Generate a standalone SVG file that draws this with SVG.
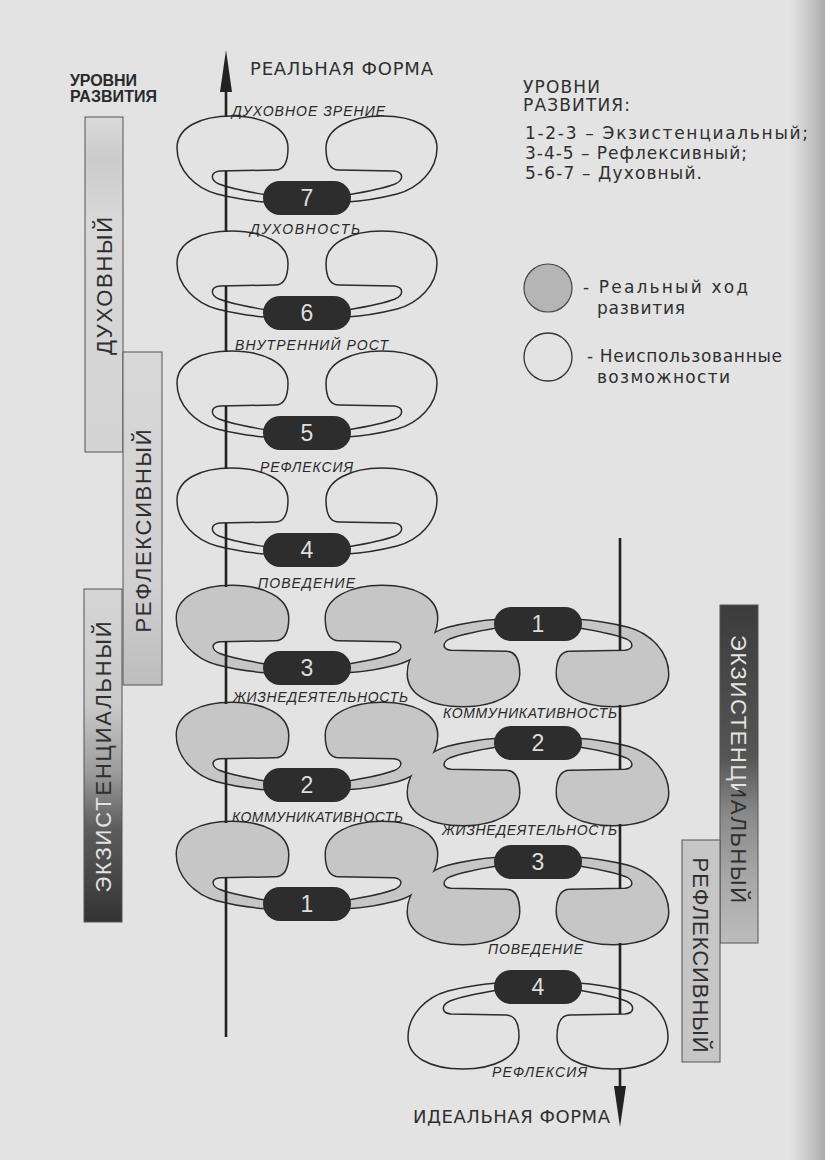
<svg xmlns="http://www.w3.org/2000/svg" width="825" height="1160" viewBox="0 0 825 1160">
<defs>
<style>
.lbl{font-family:"Liberation Sans",Arial,sans-serif;font-style:italic;font-size:14px;fill:#2a2a2a}
.num{font-family:"Liberation Sans",Arial,sans-serif;font-size:23px;fill:#dedede;text-anchor:middle}
.pill{fill:#2d2d2d}
.axis{stroke:#222;stroke-width:2.6;fill:none}
.bar{font-family:"Liberation Sans",Arial,sans-serif;font-size:22px;text-anchor:middle}
.leg{font-family:"DejaVu Sans",sans-serif;font-size:17px;fill:#2f2f2f}
.big{font-family:"DejaVu Sans",sans-serif;font-size:18px;fill:#2f2f2f}
.head{font-family:"Liberation Sans",Arial,sans-serif;font-weight:bold;font-size:16px;fill:#2a2a2a}
.shOut{fill:none;stroke:#2b2b2b;stroke-width:3}
.shFill{fill:#c6c6c6;stroke:none}
.open{fill:#e3e3e3;stroke:#2b2b2b;stroke-width:1.5}
.barbox{stroke:#555;stroke-width:1}
</style>
<path id="lobe" d="M -40,-3 C -58,-6 -78,-10 -88,-14 C -97,-18 -97,-26 -87,-27 L -32,-28 C -22,-28 -19,-38 -19,-50 C -19,-70 -44,-82 -75,-82 C -108,-82 -130,-70 -130,-50 C -130,-28 -112,-10 -90,-4 C -74,0 -58,3 -40,4 Z"/>
<linearGradient id="gExL" x1="0" y1="0" x2="0" y2="1">
<stop offset="0" stop-color="#d6d6d6"/><stop offset="0.35" stop-color="#c9c9c9"/><stop offset="0.55" stop-color="#9c9c9c"/><stop offset="0.72" stop-color="#5c5c5c"/><stop offset="1" stop-color="#333"/>
</linearGradient>
<linearGradient id="gExR" x1="0" y1="0" x2="0" y2="1">
<stop offset="0" stop-color="#3c3c3c"/><stop offset="0.45" stop-color="#555"/><stop offset="0.62" stop-color="#8a8a8a"/><stop offset="0.82" stop-color="#a9a9a9"/><stop offset="1" stop-color="#bcbcbc"/>
</linearGradient>
<linearGradient id="gDu" x1="0" y1="0" x2="0" y2="1">
<stop offset="0" stop-color="#dadada"/><stop offset="0.12" stop-color="#cbcbcb"/><stop offset="0.3" stop-color="#d8d8d8"/><stop offset="1" stop-color="#d3d3d3"/>
</linearGradient>
<linearGradient id="gRe" x1="0" y1="0" x2="0" y2="1">
<stop offset="0" stop-color="#d8d8d8"/><stop offset="0.7" stop-color="#d0d0d0"/><stop offset="1" stop-color="#bdbdbd"/>
</linearGradient>
<linearGradient id="gEdge" x1="0" y1="0" x2="1" y2="0">
<stop offset="0" stop-color="#b0b0b0" stop-opacity="0"/><stop offset="1" stop-color="#a5a5a5" stop-opacity="0.9"/>
</linearGradient>
<clipPath id="cLtop"><rect x="80" y="580" width="50" height="215"/></clipPath>
<clipPath id="cLbot"><rect x="80" y="795" width="50" height="140"/></clipPath>
<clipPath id="cRtop"><rect x="715" y="600" width="50" height="190"/></clipPath>
<clipPath id="cRbot"><rect x="715" y="790" width="50" height="160"/></clipPath>
</defs>

<rect x="0" y="0" width="825" height="1160" fill="#e3e3e3"/>
<rect x="790" y="0" width="35" height="1160" fill="url(#gEdge)"/>

<!-- ribbons (lobes) -->
<g id="ribbons">
<g id="shaded-outline" class="shOut">
<use href="#lobe" transform="translate(307,668)"/><use href="#lobe" transform="translate(307,668) scale(-1,1)"/>
<use href="#lobe" transform="translate(307,785)"/><use href="#lobe" transform="translate(307,785) scale(-1,1)"/>
<use href="#lobe" transform="translate(307,904)"/><use href="#lobe" transform="translate(307,904) scale(-1,1)"/>
<use href="#lobe" transform="translate(538,624) scale(1,-1)"/><use href="#lobe" transform="translate(538,624) scale(-1,-1)"/>
<use href="#lobe" transform="translate(538,743) scale(1,-1)"/><use href="#lobe" transform="translate(538,743) scale(-1,-1)"/>
<use href="#lobe" transform="translate(538,862) scale(1,-1)"/><use href="#lobe" transform="translate(538,862) scale(-1,-1)"/>
</g>
<g id="shaded-fill" class="shFill">
<use href="#lobe" transform="translate(307,668)"/><use href="#lobe" transform="translate(307,668) scale(-1,1)"/>
<use href="#lobe" transform="translate(307,785)"/><use href="#lobe" transform="translate(307,785) scale(-1,1)"/>
<use href="#lobe" transform="translate(307,904)"/><use href="#lobe" transform="translate(307,904) scale(-1,1)"/>
<use href="#lobe" transform="translate(538,624) scale(1,-1)"/><use href="#lobe" transform="translate(538,624) scale(-1,-1)"/>
<use href="#lobe" transform="translate(538,743) scale(1,-1)"/><use href="#lobe" transform="translate(538,743) scale(-1,-1)"/>
<use href="#lobe" transform="translate(538,862) scale(1,-1)"/><use href="#lobe" transform="translate(538,862) scale(-1,-1)"/>
</g>
<g id="open-lobes" class="open">
<use href="#lobe" transform="translate(307,198)"/><use href="#lobe" transform="translate(307,198) scale(-1,1)"/>
<use href="#lobe" transform="translate(307,313)"/><use href="#lobe" transform="translate(307,313) scale(-1,1)"/>
<use href="#lobe" transform="translate(307,433)"/><use href="#lobe" transform="translate(307,433) scale(-1,1)"/>
<use href="#lobe" transform="translate(307,550)"/><use href="#lobe" transform="translate(307,550) scale(-1,1)"/>
<use href="#lobe" transform="translate(538,987) scale(1,-1)"/><use href="#lobe" transform="translate(538,987) scale(-1,-1)"/>
</g>
</g>

<!-- connectors: axes -->
<g id="connectors">
<path class="axis" d="M226,90 V117 M226,171 V232 M226,286 V352 M226,406 V469 M226,523 V587 M226,641 V704 M226,758 V823 M226,877 V1037"/>
<polygon points="226,50 220,92 232,92" fill="#222"/>
<path class="axis" d="M620,538 V651 M620,705 V770 M620,824 V889 M620,943 V1014 M620,1068 V1090"/>
<polygon points="620,1127 614,1086 626,1086" fill="#222"/>
</g>

<!-- left chain levels -->
<g id="level-7"><rect class="pill" x="263" y="181" width="88" height="34" rx="17"/><text class="num" x="307" y="206">7</text></g>
<g id="level-6"><rect class="pill" x="263" y="296" width="88" height="34" rx="17"/><text class="num" x="307" y="321">6</text></g>
<g id="level-5"><rect class="pill" x="263" y="416" width="88" height="34" rx="17"/><text class="num" x="307" y="441">5</text></g>
<g id="level-4"><rect class="pill" x="263" y="533" width="88" height="34" rx="17"/><text class="num" x="307" y="558">4</text></g>
<g id="level-3"><rect class="pill" x="263" y="651" width="88" height="34" rx="17"/><text class="num" x="307" y="676">3</text></g>
<g id="level-2"><rect class="pill" x="263" y="768" width="88" height="34" rx="17"/><text class="num" x="307" y="793">2</text></g>
<g id="level-1"><rect class="pill" x="263" y="887" width="88" height="34" rx="17"/><text class="num" x="307" y="912">1</text></g>

<!-- right chain levels -->
<g id="r-level-1"><rect class="pill" x="494" y="607" width="88" height="34" rx="17"/><text class="num" x="538" y="632">1</text></g>
<g id="r-level-2"><rect class="pill" x="494" y="726" width="88" height="34" rx="17"/><text class="num" x="538" y="751">2</text></g>
<g id="r-level-3"><rect class="pill" x="494" y="845" width="88" height="34" rx="17"/><text class="num" x="538" y="870">3</text></g>
<g id="r-level-4"><rect class="pill" x="494" y="970" width="88" height="34" rx="17"/><text class="num" x="538" y="995">4</text></g>

<!-- level labels -->
<g id="labels-left">
<text class="lbl" x="232" y="116" textLength="153">ДУХОВНОЕ ЗРЕНИЕ</text>
<text class="lbl" x="250" y="234" textLength="110">ДУХОВНОСТЬ</text>
<text class="lbl" x="235" y="350" textLength="153">ВНУТРЕННИЙ РОСТ</text>
<text class="lbl" x="260" y="472" textLength="93">РЕФЛЕКСИЯ</text>
<text class="lbl" x="258" y="588" textLength="97">ПОВЕДЕНИЕ</text>
<text class="lbl" x="233" y="702" textLength="175">ЖИЗНЕДЕЯТЕЛЬНОСТЬ</text>
<text class="lbl" x="232" y="822" textLength="171">КОММУНИКАТИВНОСТЬ</text>
</g>
<g id="labels-right">
<text class="lbl" x="443" y="718" textLength="174">КОММУНИКАТИВНОСТЬ</text>
<text class="lbl" x="442" y="835" textLength="175">ЖИЗНЕДЕЯТЕЛЬНОСТЬ</text>
<text class="lbl" x="488" y="954" textLength="95">ПОВЕДЕНИЕ</text>
<text class="lbl" x="492" y="1077" textLength="95">РЕФЛЕКСИЯ</text>
</g>

<!-- axis titles -->
<g id="title-real"><text class="big" x="250" y="75" textLength="183">РЕАЛЬНАЯ ФОРМА</text></g>
<g id="title-ideal"><text class="big" x="413" y="1123" textLength="197">ИДЕАЛЬНАЯ ФОРМА</text></g>

<!-- left heading -->
<g id="heading-left">
<text class="head" x="70" y="86" textLength="67">УРОВНИ</text>
<text class="head" x="70" y="102" textLength="87">РАЗВИТИЯ</text>
</g>

<!-- left bars -->
<g id="bar-duh">
<rect class="barbox" x="85" y="117" width="38" height="335" fill="url(#gDu)"/>
<text class="bar" x="112" y="286" fill="#2f2f2f" textLength="138" transform="rotate(-90 112 286)">ДУХОВНЫЙ</text>
</g>
<g id="bar-ref">
<rect class="barbox" x="123" y="352" width="39" height="333" fill="url(#gRe)"/>
<text class="bar" x="150.5" y="531" fill="#2f2f2f" textLength="203" transform="rotate(-90 150.5 531)">РЕФЛЕКСИВНЫЙ</text>
</g>
<g id="bar-ex">
<rect class="barbox" x="84" y="589" width="38" height="333" fill="url(#gExL)"/>
<g clip-path="url(#cLtop)"><text class="bar" x="111" y="757" fill="#2f2f2f" textLength="271" transform="rotate(-90 111 757)">ЭКЗИСТЕНЦИАЛЬНЫЙ</text></g>
<g clip-path="url(#cLbot)"><text class="bar" x="111" y="757" fill="#e2e2e2" textLength="271" transform="rotate(-90 111 757)">ЭКЗИСТЕНЦИАЛЬНЫЙ</text></g>
</g>

<!-- right bars -->
<g id="bar-ex-r">
<rect class="barbox" x="720" y="605" width="38" height="338" fill="url(#gExR)"/>
<g clip-path="url(#cRtop)"><text class="bar" x="731" y="769" fill="#e4e4e4" textLength="268" transform="rotate(90 731 769)">ЭКЗИСТЕНЦИАЛЬНЫЙ</text></g>
<g clip-path="url(#cRbot)"><text class="bar" x="731" y="769" fill="#2f2f2f" textLength="268" transform="rotate(90 731 769)">ЭКЗИСТЕНЦИАЛЬНЫЙ</text></g>
</g>
<g id="bar-ref-r">
<rect class="barbox" x="682" y="840" width="38" height="222" fill="#c6c6c6"/>
<text class="bar" x="693" y="955" fill="#2f2f2f" textLength="195" transform="rotate(90 693 955)">РЕФЛЕКСИВНЫЙ</text>
</g>

<!-- legend -->
<g id="legend">
<text class="leg" x="523" y="93" textLength="77">УРОВНИ</text>
<text class="leg" x="523" y="111" textLength="107">РАЗВИТИЯ:</text>
<text class="leg" x="525" y="139" textLength="283">1-2-3 – Экзистенциальный;</text>
<text class="leg" x="525" y="159" textLength="222">3-4-5 – Рефлексивный;</text>
<text class="leg" x="525" y="179" textLength="177">5-6-7 – Духовный.</text>
<circle cx="548" cy="288" r="24" fill="#b5b5b5" stroke="#444" stroke-width="1.2"/>
<text class="leg" x="583" y="293" textLength="165">- Реальный ход</text>
<text class="leg" x="597" y="314" textLength="88">развития</text>
<circle cx="548" cy="357" r="24" fill="none" stroke="#333" stroke-width="1.3"/>
<text class="leg" x="587" y="362" textLength="195">- Неиспользованные</text>
<text class="leg" x="597" y="383" textLength="133">возможности</text>
</g>
</svg>
